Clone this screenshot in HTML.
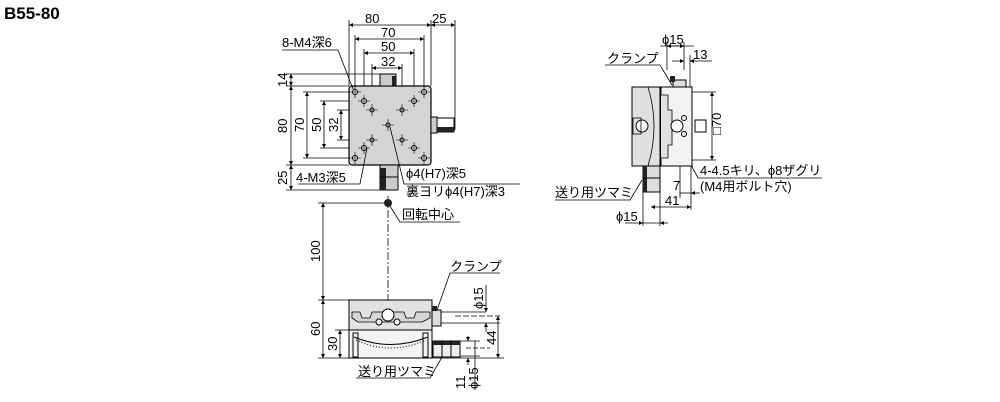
<!DOCTYPE html>
<html><head><meta charset="utf-8"><style>
html,body{margin:0;padding:0;background:#fff;}
svg{display:block;}
text{font-family:"Liberation Sans","Noto Sans CJK JP",sans-serif;font-size:13px;fill:#000;}
</style></head><body>
<svg width="1000" height="402" viewBox="0 0 1000 402" xmlns="http://www.w3.org/2000/svg">
<defs>
<marker id="a" viewBox="0 0 6 6" refX="6" refY="3" markerWidth="5" markerHeight="5" orient="auto-start-reverse"><path d="M0,0L6,3L0,6z" fill="#000"/></marker>
</defs>
<text x="4" y="19" style="font-size:17px;font-weight:bold">B55-80</text>

<g stroke="#000" stroke-width="0.8" fill="none">
<line x1="349" y1="20" x2="349" y2="86"/><line x1="431" y1="20" x2="431" y2="86"/>
<line x1="455" y1="20" x2="455" y2="130"/>
<line x1="355" y1="35" x2="355" y2="90"/><line x1="424" y1="35" x2="424" y2="90"/>
<line x1="364" y1="49" x2="364" y2="100"/><line x1="414" y1="49" x2="414" y2="100"/>
<line x1="372" y1="64" x2="372" y2="108"/><line x1="402" y1="64" x2="402" y2="108"/>
<line x1="349" y1="25" x2="431" y2="25" marker-start="url(#a)" marker-end="url(#a)"/>
<line x1="431" y1="25" x2="455" y2="25" marker-start="url(#a)" marker-end="url(#a)"/>
<line x1="355" y1="39" x2="424" y2="39" marker-start="url(#a)" marker-end="url(#a)"/>
<line x1="364" y1="53" x2="414" y2="53" marker-start="url(#a)" marker-end="url(#a)"/>
<line x1="372" y1="68" x2="402" y2="68" marker-start="url(#a)" marker-end="url(#a)"/>
<line x1="286" y1="74" x2="380" y2="74"/><line x1="286" y1="86" x2="349" y2="86"/>
<line x1="286" y1="165" x2="349" y2="165"/><line x1="286" y1="190" x2="390" y2="190"/>
<line x1="303" y1="92" x2="355" y2="92"/><line x1="303" y1="158" x2="355" y2="158"/>
<line x1="320" y1="101" x2="364" y2="101"/><line x1="320" y1="148" x2="364" y2="148"/>
<line x1="337" y1="110" x2="372" y2="110"/><line x1="337" y1="140" x2="372" y2="140"/>
<line x1="291" y1="74" x2="291" y2="86" marker-start="url(#a)" marker-end="url(#a)"/>
<line x1="291" y1="86" x2="291" y2="165" marker-start="url(#a)" marker-end="url(#a)"/>
<line x1="291" y1="165" x2="291" y2="190" marker-start="url(#a)" marker-end="url(#a)"/>
<line x1="307" y1="92" x2="307" y2="158" marker-start="url(#a)" marker-end="url(#a)"/>
<line x1="324" y1="101" x2="324" y2="148" marker-start="url(#a)" marker-end="url(#a)"/>
<line x1="341" y1="110" x2="341" y2="140" marker-start="url(#a)" marker-end="url(#a)"/>
</g>
<rect x="349" y="86" width="82" height="79" rx="3" fill="#d4d4d4" stroke="#000" stroke-width="1.2"/>
<rect x="380" y="74" width="16" height="12" fill="#ccc" stroke="#000"/>
<rect x="392" y="76" width="4" height="10" fill="#222"/>
<rect x="431" y="117" width="6" height="16" fill="#ccc" stroke="#000"/>
<rect x="437" y="118" width="17" height="14" fill="#fff" stroke="#000"/>
<rect x="437" y="127" width="17" height="5" fill="#222"/>
<rect x="380" y="165" width="18" height="25" fill="#ccc" stroke="#000"/>
<rect x="380" y="168" width="6" height="22" fill="#222"/>
<line x1="380" y1="177" x2="398" y2="177" stroke="#000"/>
<g stroke="#000" stroke-width="1" fill="#fff">
<circle cx="355" cy="92" r="2.5"/><circle cx="424" cy="92" r="2.5"/><circle cx="355" cy="158" r="2.5"/><circle cx="424" cy="158" r="2.5"/>
<circle cx="364" cy="101" r="2.5"/><circle cx="414" cy="101" r="2.5"/><circle cx="364" cy="148" r="2.5"/><circle cx="414" cy="148" r="2.5"/>
<circle cx="372" cy="110" r="2"/><circle cx="402" cy="110" r="2"/><circle cx="372" cy="140" r="2"/><circle cx="402" cy="140" r="2"/>
<circle cx="388" cy="125" r="2"/>
</g>
<g stroke="#000" stroke-width="0.6">
<path d="M349,92h12M355,86v12M418,92h12M424,86v12M349,158h12M355,152v12M418,158h12M424,152v12M358,101h12M364,95v12M408,101h12M414,95v12M358,148h12M364,142v12M408,148h12M414,142v12M366,110h12M372,104v12M396,110h12M402,104v12M366,140h12M372,134v12M396,140h12M402,134v12M382,125h12M388,119v12"/>
</g>
<g stroke="#000" stroke-width="0.8" fill="none">
<polyline points="282,50 338,50 353,89"/>
<polyline points="298,184 360,184 367,148"/>
<polyline points="390,127 404,184 520,184"/>
<line x1="388" y1="196" x2="388" y2="300" stroke-dasharray="8,2,2,2"/>
<polyline points="390,206 400,222 460,222"/>
<line x1="318" y1="203" x2="386" y2="203"/>
<line x1="318" y1="300" x2="349" y2="300"/>
<line x1="318" y1="358" x2="349" y2="358"/>
<line x1="335" y1="330" x2="349" y2="330"/>
<line x1="323" y1="203" x2="323" y2="300" marker-start="url(#a)" marker-end="url(#a)"/>
<line x1="323" y1="300" x2="323" y2="358" marker-start="url(#a)" marker-end="url(#a)"/>
<line x1="340" y1="330" x2="340" y2="358" marker-start="url(#a)" marker-end="url(#a)"/>
<polyline points="436,313 450,273 500,273"/>
<line x1="441" y1="312" x2="486" y2="312"/><line x1="441" y1="323" x2="500" y2="323"/>
<line x1="486" y1="285" x2="486" y2="312" marker-end="url(#a)"/>
<line x1="486" y1="323" x2="486" y2="332" marker-start="url(#a)"/>
<line x1="455" y1="316" x2="500" y2="316" stroke-dasharray="6,2"/>
<line x1="498" y1="316" x2="498" y2="358" marker-start="url(#a)" marker-end="url(#a)"/>
<line x1="432" y1="358" x2="504" y2="358"/>
<line x1="460" y1="341" x2="480" y2="341"/><line x1="460" y1="356" x2="480" y2="356"/>
<line x1="475" y1="341" x2="475" y2="390"/>
<line x1="466" y1="348" x2="490" y2="348" stroke-dasharray="5,2"/>
<line x1="468" y1="336" x2="468" y2="341" marker-end="url(#a)"/>
<line x1="468" y1="358" x2="468" y2="365" marker-start="url(#a)"/>
<polyline points="356,378 430,378 445,352"/>
</g>
<rect x="349" y="300" width="83" height="30" fill="#e2e2e2" stroke="#000"/>
<rect x="349" y="330" width="83" height="28" fill="#f4f4f4" stroke="#000"/>
<path d="M352,312 L360,312 L362,318 L370,318 L372,312 L404,312 L406,318 L414,318 L416,312 L430,312 L430,318 L422,322 L358,322 L352,318Z" fill="#d6d6d6" stroke="#000" stroke-width="0.8"/>
<circle cx="388" cy="315" r="6" fill="#fff" stroke="#000"/>
<circle cx="379" cy="322" r="3" fill="#fff" stroke="#000"/><circle cx="397" cy="322" r="3" fill="#fff" stroke="#000"/>
<path d="M354,337 Q390,352 428,337" fill="none" stroke="#000"/>
<path d="M356,340 Q390,356 426,340" fill="none" stroke="#000" stroke-dasharray="1,2"/>
<rect x="353" y="333" width="5" height="24" fill="none" stroke="#000"/><rect x="423" y="333" width="5" height="24" fill="none" stroke="#000"/>
<rect x="432" y="310" width="9" height="16" fill="#ddd" stroke="#000"/>
<rect x="432" y="306" width="5" height="5" fill="#222"/>
<rect x="433" y="341" width="27" height="16" fill="#eee" stroke="#000"/>
<rect x="433" y="341" width="27" height="4" fill="#222"/>
<line x1="442" y1="341" x2="442" y2="357" stroke="#000"/><line x1="451" y1="341" x2="451" y2="357" stroke="#000"/>
<circle cx="388" cy="203" r="4" fill="#222"/>

<g stroke="#000" stroke-width="0.8" fill="none">
<line x1="667" y1="42" x2="667" y2="70"/><line x1="684" y1="42" x2="684" y2="70"/><line x1="690" y1="55" x2="690" y2="160"/>
<line x1="660" y1="46" x2="694" y2="46"/>
<line x1="667" y1="46" x2="684" y2="46" marker-start="url(#a)" marker-end="url(#a)"/>
<line x1="672" y1="61" x2="684" y2="61" marker-end="url(#a)"/>
<line x1="690" y1="61" x2="712" y2="61" marker-start="url(#a)"/>
<polyline points="605,65 660,65 672,85"/>
<line x1="692" y1="92" x2="716" y2="92"/><line x1="692" y1="160" x2="716" y2="160"/>
<line x1="712" y1="92" x2="712" y2="160" marker-start="url(#a)" marker-end="url(#a)"/>
<polyline points="690,163 698,178 822,178"/>
<line x1="643" y1="168" x2="643" y2="226"/><line x1="660" y1="165" x2="660" y2="226"/>
<line x1="680" y1="165" x2="680" y2="198"/><line x1="691" y1="165" x2="691" y2="210"/>
<line x1="680" y1="193" x2="691" y2="193"/>
<line x1="691" y1="193" x2="700" y2="193" marker-start="url(#a)"/>
<line x1="651" y1="207" x2="691" y2="207" marker-start="url(#a)" marker-end="url(#a)"/>
<line x1="625" y1="223" x2="643" y2="223" marker-end="url(#a)"/>
<line x1="643" y1="223" x2="660" y2="223"/>
<line x1="660" y1="223" x2="668" y2="223" marker-start="url(#a)"/>
<polyline points="555,200 630,200 642,180"/>
</g>
<rect x="632" y="87" width="28" height="79" fill="#e0e0e0" stroke="#000"/>
<path d="M648,87 Q660,126 648,166" fill="none" stroke="#000" stroke-width="0.8"/>
<rect x="661" y="87" width="31" height="79" fill="#f2f2f2" stroke="#000"/>
<path d="M661,95 L668,95 L668,110 L672,110 L672,145 L668,145 L668,158 L661,158" fill="#e0e0e0" stroke="#000" stroke-width="0.8"/>
<circle cx="642" cy="126" r="6" fill="#fff" stroke="#000"/><circle cx="677" cy="126" r="6" fill="#fff" stroke="#000"/>
<rect x="633" y="118" width="8" height="16" fill="none" stroke="#000" stroke-width="0.8"/>
<circle cx="684" cy="118" r="2.5" fill="none" stroke="#000"/><circle cx="684" cy="134" r="2.5" fill="none" stroke="#000"/>
<rect x="673" y="80" width="13" height="7" fill="#ddd" stroke="#000"/><rect x="670" y="76" width="5" height="6" fill="#222"/>
<rect x="643" y="166" width="17" height="26" fill="#ddd" stroke="#000"/>
<rect x="643" y="166" width="4" height="26" fill="#222"/>
<line x1="643" y1="178" x2="660" y2="178" stroke="#000"/>
<rect x="695" y="120" width="11" height="12" fill="#fff" stroke="#000"/>

<text x="365" y="23">80</text><text x="432" y="23">25</text>
<text x="381" y="37">70</text><text x="381" y="51">50</text><text x="381" y="66">32</text>
<text x="282" y="47">8-M4深6</text>
<text x="296" y="182">4-M3深5</text>
<text x="406" y="178">ϕ4(H7)深5</text>
<text x="406" y="196">裏ヨリϕ4(H7)深3</text>
<text x="402" y="219">回転中心</text>
<text x="450" y="271">クランプ</text>
<text x="358" y="376">送り用ツマミ</text>
<text x="607" y="63">クランプ</text>
<text x="662" y="44">ϕ15</text><text x="693" y="59">13</text>
<text x="700" y="175">4-4.5キリ、ϕ8ザグリ</text>
<text x="700" y="191">(M4用ボルト穴)</text>
<text x="555" y="197">送り用ツマミ</text>
<text x="673" y="190">7</text><text x="665" y="205">41</text>
<text x="616" y="221">ϕ15</text>
<g transform="rotate(-90)">
<text x="-87" y="287">14</text><text x="-133" y="287">80</text><text x="-185" y="287">25</text>
<text x="-132" y="304">70</text><text x="-132" y="321">50</text><text x="-132" y="338">32</text>
<text x="-262" y="320">100</text><text x="-336" y="320">60</text><text x="-351" y="337">30</text>
<text x="-309" y="483">ϕ15</text><text x="-345" y="496">44</text>
<text x="-389" y="465">11</text><text x="-389" y="478">ϕ15</text>
<text x="-135" y="721">□70</text>
</g>
</svg>
</body></html>
